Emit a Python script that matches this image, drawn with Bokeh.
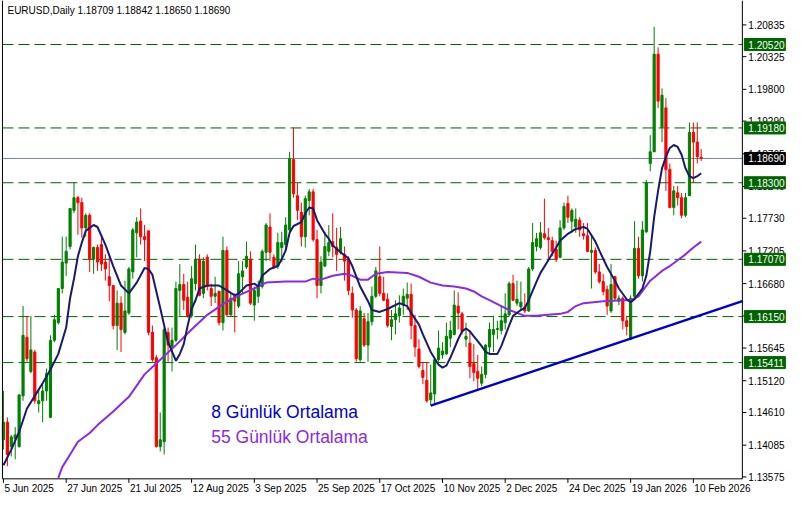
import pandas as pd
from bokeh.plotting import figure
from bokeh.models import Range1d, Label, ColumnDataSource
from bokeh.core.properties import value
from bokeh.embed import file_html
from bokeh.resources import INLINE

chart_title = "EURUSD,Daily  1.18709 1.18842 1.18650 1.18690"
first_day = "2025-06-05"
holidays = ["2025-12-25", "2026-01-01"]

opens = [
 1.14171, 1.14454, 1.14062, 1.14187, 1.14062, 1.14877, 1.15817, 1.15269, 1.15582, 1.14751,
 1.14798, 1.14955, 1.14532, 1.15770, 1.16053, 1.16601, 1.17009, 1.17276, 1.17856, 1.18060,
 1.17981, 1.17574, 1.17777, 1.17072, 1.17260, 1.17307, 1.17025, 1.16790, 1.16649, 1.16006,
 1.16366, 1.15896, 1.16209, 1.16868, 1.17495, 1.17683, 1.17433, 1.17527, 1.15896, 1.15488,
 1.14062, 1.14140, 1.15896, 1.15661, 1.15770, 1.16570, 1.16664, 1.16460, 1.16162, 1.16680,
 1.17072, 1.16523, 1.17103, 1.16601, 1.16476, 1.16554, 1.16053, 1.17213, 1.16178, 1.16476,
 1.16319, 1.16790, 1.16946, 1.17072, 1.16335, 1.16476, 1.16633, 1.17182, 1.17589, 1.17103,
 1.16962, 1.17260, 1.17307, 1.17542, 1.18672, 1.18091, 1.17825, 1.17433, 1.18013, 1.18154,
 1.17386, 1.16649, 1.16962, 1.17198, 1.17354, 1.17260, 1.17182, 1.17150, 1.17072, 1.16523,
 1.16256, 1.15457, 1.16115, 1.15692, 1.16068, 1.16476, 1.16790, 1.16523, 1.16429, 1.15990,
 1.16100, 1.16162, 1.16335, 1.16445, 1.16507, 1.16006, 1.15629, 1.15284, 1.15127, 1.14814,
 1.14908, 1.15457, 1.15535, 1.15551, 1.15802, 1.15864, 1.16319, 1.16194, 1.15786, 1.15723,
 1.15394, 1.15269, 1.15080, 1.15222, 1.15661, 1.15864, 1.15943, 1.15927, 1.16053, 1.16178,
 1.16680, 1.16366, 1.16304, 1.16304, 1.16241, 1.16915, 1.17276, 1.17260, 1.17480, 1.17417,
 1.17370, 1.17229, 1.17103, 1.17574, 1.17966, 1.17683, 1.17589, 1.17699, 1.17480, 1.17448,
 1.17182, 1.17213, 1.16868, 1.16712, 1.16586, 1.16241, 1.16790, 1.16398, 1.16445, 1.16084,
 1.15786, 1.16476, 1.17245, 1.16805, 1.17511, 1.18609, 1.18797, 1.20365, 1.19189, 1.19502,
 1.18514, 1.17903, 1.18138, 1.18060, 1.17777, 1.18091, 1.19110, 1.18953, 1.18709]

highs = [
 1.14955, 1.14532, 1.14250, 1.14375, 1.14908, 1.16319, 1.16162, 1.16162, 1.15614, 1.15002,
 1.15065, 1.15316, 1.15849, 1.16178, 1.16601, 1.17433, 1.17433, 1.17887, 1.18311, 1.18091,
 1.18060, 1.17809, 1.17809, 1.17276, 1.17307, 1.17433, 1.17150, 1.17103, 1.16649, 1.16570,
 1.16476, 1.16727, 1.16946, 1.17574, 1.17746, 1.17887, 1.17621, 1.17527, 1.16006, 1.15535,
 1.14610, 1.15974, 1.15974, 1.15974, 1.16712, 1.16993, 1.16837, 1.16712, 1.16962, 1.17307,
 1.17150, 1.17103, 1.17150, 1.16680, 1.16790, 1.16570, 1.17433, 1.17276, 1.16523, 1.16523,
 1.17041, 1.17041, 1.17354, 1.17198, 1.16633, 1.16727, 1.17229, 1.17652, 1.17809, 1.17150,
 1.17495, 1.17511, 1.17746, 1.18797, 1.19189, 1.18295, 1.17981, 1.18091, 1.18201, 1.18201,
 1.17542, 1.17119, 1.17511, 1.17621, 1.17809, 1.17574, 1.17589, 1.17276, 1.17119, 1.16633,
 1.16288, 1.16319, 1.16209, 1.16209, 1.16633, 1.16946, 1.17276, 1.16790, 1.16523, 1.16256,
 1.16413, 1.16492, 1.16601, 1.16696, 1.16680, 1.16178, 1.15786, 1.15425, 1.15425, 1.15378,
 1.15473, 1.15927, 1.15739, 1.16053, 1.16084, 1.16570, 1.16539, 1.16225, 1.16053, 1.15896,
 1.15708, 1.15535, 1.15347, 1.15708, 1.16053, 1.16162, 1.16084, 1.16335, 1.16523, 1.16712,
 1.16821, 1.16727, 1.16712, 1.16523, 1.16946, 1.17652, 1.17495, 1.17668, 1.18044, 1.17574,
 1.17433, 1.17370, 1.17699, 1.17981, 1.18091, 1.17887, 1.17887, 1.17746, 1.17652, 1.17652,
 1.17433, 1.17260, 1.16993, 1.16837, 1.16649, 1.16993, 1.16805, 1.16492, 1.16476, 1.16162,
 1.16492, 1.17683, 1.17433, 1.17683, 1.18342, 1.19063, 1.20804, 1.20474, 1.19816, 1.19659,
 1.18609, 1.18248, 1.18248, 1.18138, 1.18138, 1.19267, 1.19267, 1.19267, 1.18842]

lows = [
 1.14014, 1.13748, 1.13904, 1.13857, 1.14046, 1.14798, 1.15425, 1.15237, 1.14751, 1.14610,
 1.14454, 1.14798, 1.14517, 1.15739, 1.16021, 1.16523, 1.16805, 1.17229, 1.17809, 1.17464,
 1.17417, 1.17433, 1.16868, 1.16837, 1.16884, 1.16884, 1.16727, 1.16398, 1.15943, 1.15614,
 1.15582, 1.15864, 1.16178, 1.16759, 1.17103, 1.17307, 1.17041, 1.15849, 1.15425, 1.14046,
 1.13983, 1.13935, 1.15425, 1.15269, 1.15739, 1.16162, 1.16256, 1.16131, 1.16131, 1.16570,
 1.16476, 1.16445, 1.16570, 1.16319, 1.16366, 1.16006, 1.15927, 1.16162, 1.16162, 1.15896,
 1.16288, 1.16523, 1.16915, 1.16335, 1.16084, 1.16366, 1.16601, 1.17041, 1.17041, 1.16915,
 1.16915, 1.17025, 1.17198, 1.17511, 1.18060, 1.17699, 1.17276, 1.17260, 1.17777, 1.17354,
 1.16445, 1.16523, 1.16946, 1.17119, 1.17103, 1.16884, 1.17150, 1.16727, 1.16492, 1.16131,
 1.15425, 1.15425, 1.15661, 1.15425, 1.16006, 1.16445, 1.16476, 1.16398, 1.15974, 1.15770,
 1.15864, 1.16053, 1.16178, 1.16256, 1.15786, 1.15504, 1.15316, 1.15065, 1.14767, 1.14720,
 1.14751, 1.15425, 1.15473, 1.15535, 1.15661, 1.15849, 1.15943, 1.15864, 1.15661, 1.15159,
 1.15112, 1.14986, 1.15033, 1.15159, 1.15535, 1.15582, 1.15786, 1.15864, 1.15943, 1.16162,
 1.16398, 1.16319, 1.16241, 1.16209, 1.16225, 1.16884, 1.17198, 1.17229, 1.17386, 1.17087,
 1.17119, 1.17025, 1.17087, 1.17542, 1.17652, 1.17495, 1.17495, 1.17433, 1.17386, 1.17182,
 1.16601, 1.16837, 1.16680, 1.16492, 1.16178, 1.16209, 1.16398, 1.16335, 1.15943, 1.15849,
 1.15770, 1.16445, 1.16759, 1.16712, 1.17495, 1.18483, 1.18797, 1.19502, 1.18953, 1.18170,
 1.17887, 1.17777, 1.17934, 1.17730, 1.17746, 1.18091, 1.18295, 1.18609, 1.18650]

closes = [
 1.14454, 1.13935, 1.14218, 1.14250, 1.14892, 1.15849, 1.15473, 1.15614, 1.14798, 1.14798,
 1.14955, 1.15237, 1.15770, 1.16100, 1.16601, 1.17025, 1.17198, 1.17887, 1.18060, 1.17981,
 1.17574, 1.17777, 1.17072, 1.17260, 1.17025, 1.16993, 1.16915, 1.16649, 1.16006, 1.16366,
 1.15943, 1.16241, 1.16915, 1.17542, 1.17668, 1.17433, 1.17386, 1.15896, 1.15457, 1.14062,
 1.14171, 1.15943, 1.15692, 1.15770, 1.16601, 1.16664, 1.16413, 1.16162, 1.16759, 1.17072,
 1.16492, 1.17041, 1.16633, 1.16476, 1.16523, 1.16053, 1.17213, 1.16178, 1.16445, 1.16398,
 1.16837, 1.16884, 1.17119, 1.16366, 1.16570, 1.16633, 1.17198, 1.17621, 1.17182, 1.16946,
 1.17339, 1.17339, 1.17621, 1.18687, 1.18123, 1.17856, 1.17433, 1.18044, 1.18154, 1.17386,
 1.16649, 1.17025, 1.17276, 1.17339, 1.17276, 1.17150, 1.17401, 1.17041, 1.16570, 1.16256,
 1.15473, 1.16241, 1.15692, 1.16068, 1.16476, 1.16884, 1.16523, 1.16413, 1.16006, 1.16100,
 1.16194, 1.16288, 1.16476, 1.16507, 1.16006, 1.15661, 1.15347, 1.15174, 1.14798, 1.14924,
 1.15457, 1.15645, 1.15598, 1.15833, 1.15927, 1.16335, 1.16209, 1.15912, 1.15833, 1.15347,
 1.15253, 1.15159, 1.15222, 1.15692, 1.15943, 1.15943, 1.15959, 1.16084, 1.16194, 1.16680,
 1.16413, 1.16429, 1.16382, 1.16241, 1.16915, 1.17339, 1.17401, 1.17495, 1.17417, 1.17386,
 1.17198, 1.17072, 1.17574, 1.17919, 1.17746, 1.17856, 1.17715, 1.17542, 1.17448, 1.17198,
 1.17213, 1.16868, 1.16712, 1.16554, 1.16319, 1.16664, 1.16445, 1.16445, 1.16084, 1.15990,
 1.16445, 1.17245, 1.16805, 1.17542, 1.18295, 1.18797, 1.20365, 1.19612, 1.19706, 1.18514,
 1.17903, 1.18170, 1.18060, 1.17777, 1.18060, 1.19110, 1.18953, 1.18718, 1.18690]

# 8-day average (navy)
ma8_bar = [
 0, 2, 4, 6, 8, 10, 12, 14, 16, 17,
 18, 19, 20, 21, 23, 24, 26, 28, 30, 32,
 34, 36, 37, 38, 40, 41, 42, 44, 45, 46,
 47, 48, 49, 50, 52, 55, 57, 59, 60, 62,
 64, 65, 66, 68, 70, 71, 72, 73, 74, 76,
 77, 78, 79, 80, 82, 83, 84, 86, 87, 88,
 89, 91, 93, 94, 96, 98, 99, 101, 103, 104,
 106, 107, 109, 111, 112, 113, 114, 116, 117, 118,
 119, 120, 122, 123, 124, 126, 127, 129, 130, 132,
 133, 134, 136, 137, 139, 141, 142, 144, 146, 148,
 149, 151, 152, 154, 156, 157, 159, 160, 161, 163,
 164, 165, 166, 167, 168, 169, 170, 171, 172, 173,
 174, 175, 176, 177, 178]
ma8_val = [
 1.13763, 1.14014, 1.14297, 1.14673, 1.14877, 1.15080, 1.15300, 1.15551, 1.15974, 1.16445,
 1.16759, 1.17119, 1.17339, 1.17527, 1.17621, 1.17589, 1.17307, 1.16962, 1.16649, 1.16523,
 1.16696, 1.16931, 1.16915, 1.16821, 1.16288, 1.16006, 1.15739, 1.15441, 1.15551, 1.15708,
 1.16006, 1.16272, 1.16413, 1.16601, 1.16649, 1.16649, 1.16570, 1.16492, 1.16523, 1.16649,
 1.16680, 1.16633, 1.16805, 1.16915, 1.16962, 1.17072, 1.17213, 1.17495, 1.17605, 1.17668,
 1.17809, 1.17903, 1.17887, 1.17699, 1.17480, 1.17401, 1.17292, 1.17182, 1.17135, 1.17087,
 1.16962, 1.16633, 1.16398, 1.16256, 1.16225, 1.16272, 1.16304, 1.16366, 1.16319, 1.16209,
 1.16021, 1.15864, 1.15582, 1.15378, 1.15331, 1.15363, 1.15488, 1.15786, 1.15912, 1.15959,
 1.15912, 1.15833, 1.15676, 1.15582, 1.15551, 1.15551, 1.15676, 1.16006, 1.16162, 1.16256,
 1.16288, 1.16413, 1.16712, 1.16852, 1.17056, 1.17260, 1.17370, 1.17480, 1.17558, 1.17589,
 1.17558, 1.17354, 1.17213, 1.16946, 1.16727, 1.16601, 1.16429, 1.16382, 1.16429, 1.16601,
 1.16805, 1.17198, 1.17746, 1.18170, 1.18530, 1.18718, 1.18859, 1.18906, 1.18875, 1.18750,
 1.18530, 1.18405, 1.18373, 1.18405, 1.18452]

# 55-day average (purple)
ma55_bar = [
 14, 15, 17, 19, 22, 24, 28, 32, 36, 40,
 44, 48, 52, 56, 60, 64, 67, 72, 77, 79,
 81, 84, 87, 89, 91, 93, 95, 98, 103, 106,
 109, 112, 115, 118, 120, 122, 124, 127, 129, 131,
 133, 136, 139, 142, 144, 146, 148, 153, 158, 160,
 162, 165, 168, 170, 172, 174, 176, 178]
ma55_val = [
 1.13560, 1.13732, 1.13935, 1.14140, 1.14281, 1.14407, 1.14626, 1.14861, 1.15222, 1.15457,
 1.15692, 1.15943, 1.16178, 1.16351, 1.16492, 1.16601, 1.16696, 1.16712, 1.16712, 1.16759,
 1.16743, 1.16805, 1.16837, 1.16805, 1.16743, 1.16743, 1.16837, 1.16868, 1.16852, 1.16790,
 1.16696, 1.16649, 1.16633, 1.16601, 1.16554, 1.16476, 1.16413, 1.16319, 1.16256, 1.16209,
 1.16162, 1.16162, 1.16178, 1.16194, 1.16225, 1.16319, 1.16366, 1.16398, 1.16413, 1.16413,
 1.16476, 1.16727, 1.16884, 1.16962, 1.17056, 1.17150, 1.17260, 1.17354]

# support trend line, from the low of 13 Nov 2025 to the right edge of the chart
trend_bar = [109, 188.5]
trend_price = [1.14720, 1.16398]

level_prices = [1.20520, 1.19180, 1.18300, 1.17070, 1.16150, 1.15411]
last_price = 1.18690
price_ticks = [1.20835, 1.20325, 1.19800, 1.19290, 1.18765, 1.18240, 1.17730, 1.17205,
               1.16680, 1.16160, 1.15645, 1.15120, 1.14610, 1.14085, 1.13575]
date_ticks = ["2025-06-05", "2025-06-27", "2025-07-21", "2025-08-12", "2025-09-03",
              "2025-09-25", "2025-10-17", "2025-11-10", "2025-12-02", "2025-12-24",
              "2026-01-19", "2026-02-10"]
legend_texts = ["8 Günlük Ortalama", "55 Günlük Ortalama"]
legend_prices = [1.14610, 1.14218]

FONT = "Liberation Sans"
SCALE_FONT = "10px"
UP, DN = "#008000", "#ff0000"
NAVY, PURPLE, TREND = "#191970", "#8A2BE2", "#0000CD"
LEVEL = "#006400"

# chart frame (bar units / price units); the price scale and date scale are drawn
# to the right of and below this frame
X_LEFT, X_RIGHT = -0.25, 188.5
Y_BOTTOM = 1.13544
PX_PER_BAR = 3.92
PX_PER_PRICE = 6226.0

n = len(closes)
hol = set(pd.to_datetime(holidays))
days = [d for d in pd.bdate_range(first_day, periods=n + 10) if d not in hol][:n]
day_index = {d.strftime("%Y-%m-%d"): i for i, d in enumerate(days)}

colors = [UP if c >= o else DN for o, c in zip(opens, closes)]
src = ColumnDataSource(dict(
    x=list(range(n)), h=highs, l=lows,
    top=[max(o, c) for o, c in zip(opens, closes)],
    bot=[min(o, c) for o, c in zip(opens, closes)],
    color=colors))

W, H = 787, 495
x0 = -0.75
y1 = 1.21227
p = figure(width=W, height=H,
           x_range=Range1d(x0, x0 + W / PX_PER_BAR),
           y_range=Range1d(y1 - H / PX_PER_PRICE, y1),
           output_backend="svg", toolbar_location=None,
           x_axis_location=None, y_axis_location=None,
           min_border_left=0, min_border_right=0, min_border_top=0, min_border_bottom=0,
           outline_line_color=None, background_fill_color="white", border_fill_color="white")
p.grid.visible = False

def px_x(pixels):
    return pixels / PX_PER_BAR

def px_y(pixels):
    return pixels / PX_PER_PRICE

# horizontal levels
nl = len(level_prices)
p.segment(x0=[X_LEFT] * nl, y0=level_prices, x1=[X_RIGHT] * nl, y1=level_prices,
          line_color=LEVEL, line_dash="11 5", line_width=1)
p.segment(x0=[X_LEFT], y0=[last_price], x1=[X_RIGHT], y1=[last_price],
          line_color="#778899", line_width=1)

# candles
p.segment(x0="x", y0="l", x1="x", y1="h", line_color="color", line_width=1, source=src)
p.vbar(x="x", width=0.55, top="top", bottom="bot", fill_color="color",
       line_color="color", line_width=1, source=src)

# averages and trend line
p.line(ma55_bar, ma55_val, line_color=PURPLE, line_width=2)
p.line(ma8_bar, ma8_val, line_color=NAVY, line_width=2)
p.line(trend_bar, trend_price, line_color=TREND, line_width=2.5)

# frame lines
p.segment(x0=[X_LEFT, X_LEFT, X_RIGHT], y0=[Y_BOTTOM, Y_BOTTOM, Y_BOTTOM],
          x1=[X_LEFT, X_RIGHT, X_RIGHT], y1=[y1, Y_BOTTOM, y1],
          line_color="black", line_width=1)

# price scale
nt = len(price_ticks)
p.segment(x0=[X_RIGHT] * nt, y0=price_ticks, x1=[X_RIGHT + px_x(4)] * nt, y1=price_ticks,
          line_color="black", line_width=1)
p.text(x=[X_RIGHT + px_x(6)] * nt, y=price_ticks, text=[f"{t:.5f}" for t in price_ticks],
       text_font=value(FONT), text_font_size=value(SCALE_FONT), text_color="black",
       text_align="left", text_baseline="middle")

# boxes for the levels and the last price
box_x = X_RIGHT + px_x(22.5)
box_prices = level_prices + [last_price]
box_colors = [LEVEL] * nl + ["black"]
p.rect(x=[box_x] * len(box_prices), y=box_prices, width=41, height=12,
       width_units="screen", height_units="screen", fill_color=box_colors,
       line_color=box_colors)
p.text(x=[X_RIGHT + px_x(6)] * len(box_prices), y=box_prices,
       text=[f"{b:.5f}" for b in box_prices], text_font=value(FONT),
       text_font_size=value(SCALE_FONT), text_color="white",
       text_align="left", text_baseline="middle")

# date scale
tick_idx = [day_index[d] for d in date_ticks if d in day_index]
tick_txt = []
for d in date_ticks:
    if d in day_index:
        dt = pd.Timestamp(d)
        tick_txt.append(f"{dt.day} {dt.strftime('%b %Y')}")
nd = len(tick_idx)
p.segment(x0=tick_idx, y0=[Y_BOTTOM] * nd, x1=tick_idx, y1=[Y_BOTTOM - px_y(4)] * nd,
          line_color="black", line_width=1)
p.text(x=[i + px_x(1) for i in tick_idx], y=[Y_BOTTOM - px_y(4)] * nd, text=tick_txt,
       text_font=value(FONT), text_font_size=value(SCALE_FONT), text_color="black",
       text_align="left", text_baseline="top")

# title
p.add_layout(Label(x=X_LEFT, y=y1, x_offset=5, y_offset=-4, text=chart_title,
                   text_align="left", text_baseline="top", text_font=FONT,
                   text_font_size="10px", text_color="black"))

# legend texts
for txt, yv, col in zip(legend_texts, legend_prices, [TREND, PURPLE]):
    p.add_layout(Label(x=53, y=yv, text=txt, text_align="left",
                       text_baseline="middle", text_font=FONT, text_font_size="17.5px",
                       text_color=col))

html = file_html(p, INLINE, title="EURUSD Daily")
with open("out.html", "w", encoding="utf-8") as f:
    f.write(html)
